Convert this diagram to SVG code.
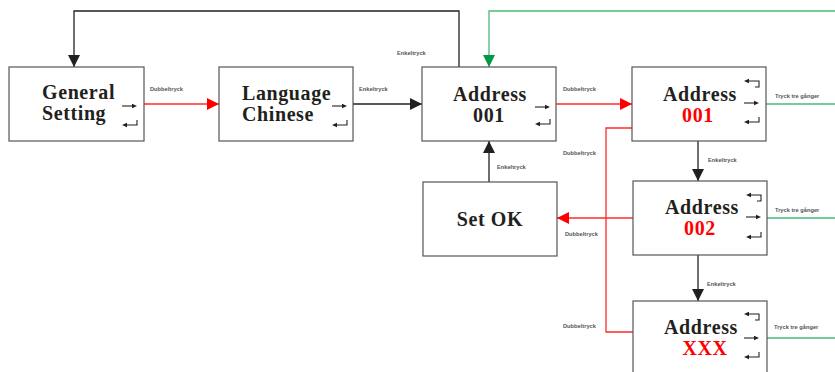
<svg xmlns="http://www.w3.org/2000/svg" width="835" height="372" viewBox="0 0 835 372">
<defs>
<style>
.box{fill:#fff;stroke:#555;stroke-width:1.2}
.t{font-family:"Liberation Serif","Times New Roman",serif;font-weight:bold;font-size:20px;letter-spacing:0.6px;fill:#231f20}
.tr{fill:#ff0000}
.lb{font-family:"Liberation Sans",Arial,sans-serif;font-weight:bold;font-size:5.7px;fill:#555}
.k{stroke:#231f20;stroke-width:1.3;fill:none}
.r{stroke:#ff2a2a;stroke-width:1.3;fill:none}
.g{stroke:#4cb87a;stroke-width:1.3;fill:none}
.ic{stroke:#231f20;stroke-width:1.1;fill:none}
.ih{fill:#231f20}
</style>
<marker id="ak" markerUnits="userSpaceOnUse" markerWidth="12" markerHeight="12" refX="12" refY="6" orient="auto"><path d="M0,0 L12,6 L0,12 Z" fill="#231f20"/></marker>
<marker id="ar" markerUnits="userSpaceOnUse" markerWidth="12" markerHeight="12" refX="12" refY="6" orient="auto"><path d="M0,0 L12,6 L0,12 Z" fill="#ff0000"/></marker>
<marker id="ag" markerUnits="userSpaceOnUse" markerWidth="12" markerHeight="12" refX="12" refY="6" orient="auto"><path d="M0,0 L12,6 L0,12 Z" fill="#009944"/></marker>
<g id="iright"><path class="ic" d="M0,0 H11"/><path class="ih" d="M10,-2.2 L15,0 L10,2.2 Z"/></g>
<g id="iret"><path class="ic" d="M15,0 V5 H4"/><path class="ih" d="M5,2.8 L0,5 L5,7.2 Z"/></g>
<g id="iback"><path class="ic" d="M4,0 H15 V6 H11"/><path class="ih" d="M5,-2.2 L0,0 L5,2.2 Z"/></g>
</defs>
<rect width="835" height="372" fill="#fff"/>

<g id="connectors">
<path class="k" d="M459,67 V11 H74 V67" marker-end="url(#ak)"/>
<path class="g" d="M835,11 H489 V67" marker-end="url(#ag)"/>
<path class="r" d="M144,104 H219" marker-end="url(#ar)"/>
<path class="k" d="M353,104 H422" marker-end="url(#ak)"/>
<path class="r" d="M556,104 H632" marker-end="url(#ar)"/>
<path class="r" d="M632,128 H606 V332 H633"/>
<path class="r" d="M633,218 H557" marker-end="url(#ar)"/>
<path class="k" d="M489,182 V141" marker-end="url(#ak)"/>
<path class="k" d="M698,141 V181" marker-end="url(#ak)"/>
<path class="k" d="M698,255 V301" marker-end="url(#ak)"/>
<path class="g" d="M766,104 H835"/>
<path class="g" d="M767,218 H835"/>
<path class="g" d="M767,338 H835"/>
<text class="lb" x="150" y="91">Dubbeltryck</text>
<text class="lb" x="359" y="91">Enkeltryck</text>
<text class="lb" x="397" y="55">Enkeltryck</text>
<text class="lb" x="563" y="91">Dubbeltryck</text>
<text class="lb" x="775" y="98">Tryck tre gånger</text>
<text class="lb" x="563" y="155">Dubbeltryck</text>
<text class="lb" x="708" y="162">Enkeltryck</text>
<text class="lb" x="497" y="169">Enkeltryck</text>
<text class="lb" x="565" y="236">Dubbeltryck</text>
<text class="lb" x="775" y="212">Tryck tre gånger</text>
<text class="lb" x="707" y="286">Enkeltryck</text>
<text class="lb" x="563" y="328">Dubbeltryck</text>
<text class="lb" x="774" y="329">Tryck tre gånger</text>
</g>

<g id="general-setting">
<rect class="box" x="9" y="67" width="135" height="74"/>
<text class="t" x="42" y="99">General</text>
<text class="t" x="42" y="120">Setting</text>
<use href="#iright" x="122" y="106"/>
<use href="#iret" x="122" y="120"/>
</g>

<g id="language-chinese">
<rect class="box" x="219" y="67" width="134" height="74"/>
<text class="t" x="242" y="100">Language</text>
<text class="t" x="242" y="121">Chinese</text>
<use href="#iright" x="332" y="106"/>
<use href="#iret" x="332" y="120"/>
</g>

<g id="address-001-main">
<rect class="box" x="422" y="67" width="134" height="74"/>
<text class="t" x="490" y="101" text-anchor="middle">Address</text>
<text class="t" x="489" y="122" text-anchor="middle">001</text>
<use href="#iright" x="535" y="107"/>
<use href="#iret" x="535" y="119"/>
</g>

<g id="set-ok">
<rect class="box" x="423" y="182" width="134" height="74"/>
<text class="t" x="490" y="226" text-anchor="middle">Set OK</text>
</g>

<g id="address-001">
<rect class="box" x="632" y="67" width="134" height="74"/>
<text class="t" x="700" y="101" text-anchor="middle">Address</text>
<text class="t tr" x="698" y="122" text-anchor="middle">001</text>
<use href="#iback" x="744" y="81"/>
<use href="#iright" x="744" y="103"/>
<use href="#iret" x="744" y="117"/>
</g>

<g id="address-002">
<rect class="box" x="633" y="181" width="134" height="74"/>
<text class="t" x="702" y="214" text-anchor="middle">Address</text>
<text class="t tr" x="700" y="235" text-anchor="middle">002</text>
<use href="#iback" x="746" y="195"/>
<use href="#iright" x="746" y="217"/>
<use href="#iret" x="746" y="232"/>
</g>

<g id="address-xxx">
<rect class="box" x="633" y="301" width="134" height="80"/>
<text class="t" x="701" y="334" text-anchor="middle">Address</text>
<text class="t tr" x="705" y="355" text-anchor="middle">XXX</text>
<use href="#iback" x="744" y="314"/>
<use href="#iright" x="744" y="338"/>
<use href="#iret" x="744" y="352"/>
</g>
</svg>
